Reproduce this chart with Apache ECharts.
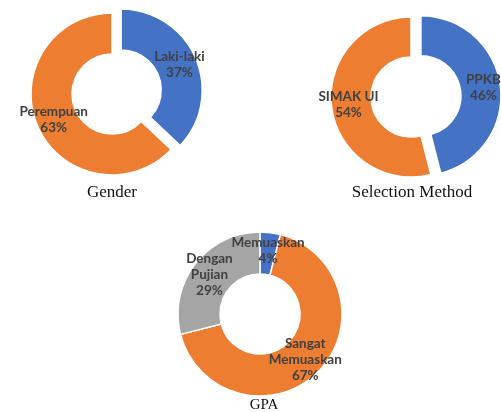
<!DOCTYPE html>
<html>
<head>
<meta charset="utf-8">
<script src="https://cdn.jsdelivr.net/npm/echarts@6/dist/echarts.min.js"></script>
<style>
html,body{margin:0;padding:0;background:#fff;}
#c{width:501px;height:412px;}
</style>
</head>
<body>
<div id="c"></div>
<script>
// Data
const genderNames = ['Laki-laki', 'Perempuan'];
const genderValues = [37, 63];
const selectionNames = ['PPKB', 'SIMAK UI'];
const selectionValues = [46, 54];
const gpaNames = ['Memuaskan', 'Sangat Memuaskan', 'Dengan Pujian'];
const gpaValues = [4, 67, 29];
const chartTitles = ['Gender', 'Selection Method', 'GPA'];

const BLUE = '#4472C4', ORANGE = '#ED7D31', GRAY = '#A5A5A5';
const labelStyle = {
  show: true,
  position: 'inside',
  color: '#404040',
  fontFamily: 'Lato, "Liberation Sans", sans-serif',
  fontWeight: 'bold',
  fontSize: 13.5,
  lineHeight: 16,
  align: 'center'
};

function makeData(names, values, colors, selectedIdx) {
  return names.map((n, i) => ({
    name: n,
    value: values[i],
    selected: i === selectedIdx,
    itemStyle: { color: colors[i] }
  }));
}

const chart = echarts.init(document.getElementById('c'), null, { renderer: 'canvas' });
const titleFont = { fontFamily: '"Liberation Serif", "Times New Roman", serif', fontWeight: 'normal', color: '#111', fontSize: 17 };

const common = {
  type: 'pie',
  startAngle: 90,
  clockwise: true,
  avoidLabelOverlap: false,
  labelLayout: { hideOverlap: false },
  itemStyle: { borderColor: '#fff', borderWidth: 1.5 },
  labelLine: { show: false },
  emphasis: { disabled: true }
};

chart.setOption({
  backgroundColor: '#fff',
  animation: false,
  title: [
    { text: chartTitles[0], left: 112, top: 184, textAlign: 'center', padding: 0, textStyle: titleFont },
    { text: chartTitles[1], left: 412, top: 184, textAlign: 'center', padding: 0, textStyle: titleFont },
    { text: chartTitles[2], left: 264, top: 398, textAlign: 'center', padding: 0, textStyle: Object.assign({}, titleFont, { fontSize: 15 }) }
  ],
  series: [
    Object.assign({}, common, {
      center: [112, 94],
      radius: [40, 81],
      selectedMode: 'single',
      selectedOffset: 10,
      label: Object.assign({}, labelStyle, { formatter: p => p.name + '\n' + p.value + '%' }),
      data: makeData(genderNames, genderValues, [BLUE, ORANGE], 0)
    }),
    Object.assign({}, common, {
      center: [411, 97],
      radius: [40, 80],
      selectedMode: 'single',
      selectedOffset: 10,
      label: Object.assign({}, labelStyle, { formatter: p => p.name + '\n' + p.value + '%' }),
      data: makeData(selectionNames, selectionValues, [BLUE, ORANGE], 0)
    }),
    Object.assign({}, common, {
      center: [260, 314],
      radius: [40, 82],
      label: Object.assign({}, labelStyle, { formatter: p => p.name.replace(' ', '\n') + '\n' + p.value + '%' }),
      data: makeData(gpaNames, gpaValues, [BLUE, ORANGE, GRAY], -1)
    })
  ]
});
</script>
</body>
</html>
